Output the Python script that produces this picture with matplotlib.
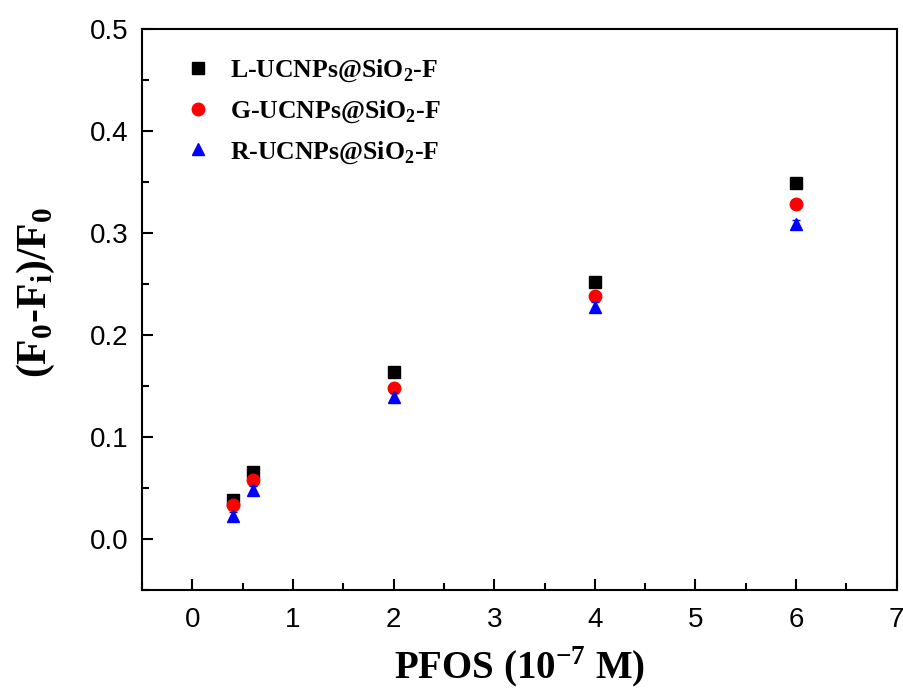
import matplotlib.pyplot as plt
from matplotlib.ticker import MultipleLocator

# Data
pfos = [0.4, 0.6, 2, 4, 6]
l_ucnp = [0.038, 0.066, 0.164, 0.252, 0.349]
g_ucnp = [0.033, 0.058, 0.148, 0.238, 0.329]
r_ucnp = [0.023, 0.048, 0.139, 0.228, 0.309]
l_err = [0.004, 0.004, 0.004, 0.004, 0.004]
g_err = [0.004, 0.004, 0.003, 0.003, 0.003]
r_err = [0.004, 0.004, 0.004, 0.004, 0.004]

labels = ['L-UCNPs@SiO$_2$-F', 'G-UCNPs@SiO$_2$-F', 'R-UCNPs@SiO$_2$-F']
colors = ['black', 'red', 'blue']
markers = ['s', 'o', '^']

plt.rcParams['mathtext.fontset'] = 'custom'
plt.rcParams['mathtext.rm'] = 'Liberation Serif:bold'
plt.rcParams['mathtext.bf'] = 'Liberation Serif:bold'

fig = plt.figure(figsize=(9.04, 6.95), dpi=100)
ax = fig.add_axes([0.157, 0.151, 0.835, 0.807])

for ys, err, c, m, lab in zip([l_ucnp, g_ucnp, r_ucnp], [l_err, g_err, r_err],
                              colors, markers, labels):
    ax.errorbar(pfos, ys, yerr=err, fmt='none', ecolor=c, capsize=3, elinewidth=1)
    ax.plot(pfos, ys, linestyle='none', marker=m, color=c, ms=9, label=lab)

ax.xaxis.set_minor_locator(MultipleLocator(0.5))
ax.yaxis.set_minor_locator(MultipleLocator(0.05))
ax.tick_params(which='both', direction='in', top=False, right=False, width=1.5)
ax.tick_params(which='major', length=8)
ax.tick_params(which='minor', length=5)
ax.tick_params(axis='x', pad=12)
ax.tick_params(axis='y', pad=10)

tick_font = 'Liberation Sans'
ax.set_yticks([0.0, 0.1, 0.2, 0.3, 0.4, 0.5])
ax.set_yticklabels(['0.0', '0.1', '0.2', '0.3', '0.4', '0.5'], family=tick_font, fontsize=20)
ax.set_xticks(range(0, 8))
ax.set_xticklabels([str(v) for v in range(0, 8)], family=tick_font, fontsize=20)
ax.set_xlim(-0.5, 7)
ax.set_ylim(-0.05, 0.5)

for s in ax.spines.values():
    s.set_linewidth(1.5)

ax.set_xlabel('PFOS (10$^{-7}$ M)', family='Liberation Serif', fontweight='bold',
              fontsize=28)
ax.xaxis.set_label_coords(0.5, -0.097)
ax.set_ylabel('(F$_0$-F$_\\mathrm{i}$)/F$_0$', family='Liberation Serif',
              fontweight='bold', fontsize=30)
ax.yaxis.set_label_coords(-0.112, 0.53)

ax.legend(loc='upper left', frameon=False, bbox_to_anchor=(0.018, 0.99),
          prop={'family': 'Liberation Serif', 'weight': 'bold', 'size': 18.5},
          handletextpad=0.5, labelspacing=0.55, handlelength=1.5)

plt.savefig('out.png', dpi=100)
